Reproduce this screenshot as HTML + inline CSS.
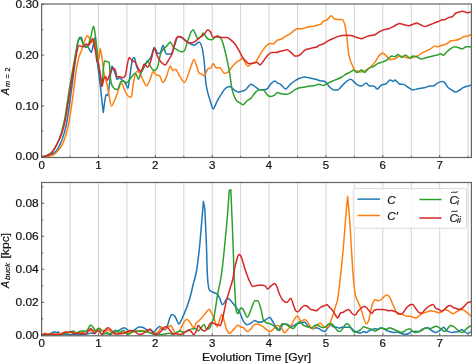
<!DOCTYPE html><html><head><meta charset="utf-8"><style>html,body{margin:0;padding:0;background:#fff;width:473px;height:364px;overflow:hidden}svg{display:block;will-change:transform}text{font-family:"Liberation Sans",sans-serif;stroke:#111;stroke-width:0.2px}</style></head><body>
<svg width="473" height="364" viewBox="0 0 473 364">
<defs><clipPath id="c1"><rect x="41.6" y="4.0" width="429.79999999999995" height="153.5"/></clipPath><clipPath id="c2"><rect x="41.6" y="182.5" width="429.79999999999995" height="153.3"/></clipPath></defs>
<line x1="70.03" y1="4.0" x2="70.03" y2="157.5" stroke="#d3d3d3" stroke-width="1"/>
<line x1="98.47" y1="4.0" x2="98.47" y2="157.5" stroke="#d3d3d3" stroke-width="1"/>
<line x1="126.91" y1="4.0" x2="126.91" y2="157.5" stroke="#d3d3d3" stroke-width="1"/>
<line x1="155.34" y1="4.0" x2="155.34" y2="157.5" stroke="#d3d3d3" stroke-width="1"/>
<line x1="183.77" y1="4.0" x2="183.77" y2="157.5" stroke="#d3d3d3" stroke-width="1"/>
<line x1="212.21" y1="4.0" x2="212.21" y2="157.5" stroke="#d3d3d3" stroke-width="1"/>
<line x1="240.64" y1="4.0" x2="240.64" y2="157.5" stroke="#d3d3d3" stroke-width="1"/>
<line x1="269.08" y1="4.0" x2="269.08" y2="157.5" stroke="#d3d3d3" stroke-width="1"/>
<line x1="297.51" y1="4.0" x2="297.51" y2="157.5" stroke="#d3d3d3" stroke-width="1"/>
<line x1="325.95" y1="4.0" x2="325.95" y2="157.5" stroke="#d3d3d3" stroke-width="1"/>
<line x1="354.38" y1="4.0" x2="354.38" y2="157.5" stroke="#d3d3d3" stroke-width="1"/>
<line x1="382.82" y1="4.0" x2="382.82" y2="157.5" stroke="#d3d3d3" stroke-width="1"/>
<line x1="411.25" y1="4.0" x2="411.25" y2="157.5" stroke="#d3d3d3" stroke-width="1"/>
<line x1="439.69" y1="4.0" x2="439.69" y2="157.5" stroke="#d3d3d3" stroke-width="1"/>
<line x1="468.12" y1="4.0" x2="468.12" y2="157.5" stroke="#d3d3d3" stroke-width="1"/>
<line x1="70.03" y1="182.5" x2="70.03" y2="335.8" stroke="#d3d3d3" stroke-width="1"/>
<line x1="98.47" y1="182.5" x2="98.47" y2="335.8" stroke="#d3d3d3" stroke-width="1"/>
<line x1="126.91" y1="182.5" x2="126.91" y2="335.8" stroke="#d3d3d3" stroke-width="1"/>
<line x1="155.34" y1="182.5" x2="155.34" y2="335.8" stroke="#d3d3d3" stroke-width="1"/>
<line x1="183.77" y1="182.5" x2="183.77" y2="335.8" stroke="#d3d3d3" stroke-width="1"/>
<line x1="212.21" y1="182.5" x2="212.21" y2="335.8" stroke="#d3d3d3" stroke-width="1"/>
<line x1="240.64" y1="182.5" x2="240.64" y2="335.8" stroke="#d3d3d3" stroke-width="1"/>
<line x1="269.08" y1="182.5" x2="269.08" y2="335.8" stroke="#d3d3d3" stroke-width="1"/>
<line x1="297.51" y1="182.5" x2="297.51" y2="335.8" stroke="#d3d3d3" stroke-width="1"/>
<line x1="325.95" y1="182.5" x2="325.95" y2="335.8" stroke="#d3d3d3" stroke-width="1"/>
<line x1="354.38" y1="182.5" x2="354.38" y2="335.8" stroke="#d3d3d3" stroke-width="1"/>
<line x1="382.82" y1="182.5" x2="382.82" y2="335.8" stroke="#d3d3d3" stroke-width="1"/>
<line x1="411.25" y1="182.5" x2="411.25" y2="335.8" stroke="#d3d3d3" stroke-width="1"/>
<line x1="439.69" y1="182.5" x2="439.69" y2="335.8" stroke="#d3d3d3" stroke-width="1"/>
<line x1="468.12" y1="182.5" x2="468.12" y2="335.8" stroke="#d3d3d3" stroke-width="1"/>
<g clip-path="url(#c1)" fill="none" stroke-width="1.5" stroke-linejoin="round" stroke-linecap="round">
<path d="M41.60,157.00 C41.60,157.00 44.75,156.83 46.00,156.50 C47.25,156.17 49.60,155.27 51.00,154.50 C52.40,153.73 55.03,152.67 56.50,150.70 C57.97,148.73 60.72,143.01 62.00,139.70 C63.28,136.39 65.19,129.93 66.10,125.90 C67.01,121.87 68.08,114.29 68.80,109.50 C69.52,104.71 70.79,95.27 71.50,90.00 C72.21,84.73 73.29,76.21 74.10,70.00 C74.91,63.79 76.87,47.60 77.60,43.40 C78.33,39.20 79.11,39.33 79.60,38.50 C80.09,37.67 80.85,37.20 81.30,37.20 C81.75,37.20 82.49,42.21 83.00,43.40 C83.51,44.59 84.45,45.65 85.10,46.10 C85.75,46.55 87.07,45.97 87.90,46.80 C88.73,47.63 90.57,52.30 91.30,52.30 C92.03,52.30 92.95,46.62 93.40,44.70 C93.85,42.78 94.34,37.90 94.70,37.90 C95.06,37.90 95.71,45.32 96.10,48.80 C96.49,52.28 97.04,59.08 97.60,64.00 C98.16,68.92 99.71,80.66 100.30,85.70 C100.89,90.74 101.60,98.23 102.00,101.80 C102.40,105.37 103.30,112.50 103.30,112.50 C103.30,112.50 104.33,104.19 104.70,101.80 C105.07,99.41 105.67,94.60 106.10,94.60 C106.53,94.60 107.42,95.50 107.90,95.50 C108.38,95.50 109.17,86.02 109.70,82.10 C110.23,78.18 111.38,66.10 111.90,66.10 C112.42,66.10 113.13,68.53 113.60,69.60 C114.07,70.67 114.92,72.78 115.40,74.10 C115.88,75.42 116.72,79.50 117.20,79.50 C117.68,79.50 118.28,77.70 119.00,77.70 C119.72,77.70 121.73,79.63 122.60,80.40 C123.47,81.17 124.78,82.43 125.50,83.50 C126.22,84.57 127.40,88.40 128.00,88.40 C128.60,88.40 129.41,78.81 130.00,75.00 C130.59,71.19 131.81,62.15 132.40,59.80 C132.99,57.45 133.84,57.40 134.40,57.40 C134.96,57.40 135.87,64.16 136.60,66.20 C137.33,68.24 139.18,72.70 139.90,72.70 C140.62,72.70 141.12,72.31 142.00,71.00 C142.88,69.69 145.31,64.71 146.50,62.90 C147.69,61.09 149.87,59.45 150.90,57.40 C151.93,55.35 153.32,47.50 154.20,47.50 C155.08,47.50 156.73,52.20 157.50,53.00 C158.27,53.80 159.27,53.50 160.00,53.50 C160.73,53.50 162.16,45.30 163.00,45.30 C163.84,45.30 165.37,54.00 166.30,54.00 C167.23,54.00 169.33,54.00 170.00,54.00 C170.67,54.00 170.69,54.00 171.30,54.00 C171.91,54.00 173.72,47.55 174.60,45.20 C175.48,42.85 177.02,36.40 177.90,36.40 C178.78,36.40 180.32,37.06 181.20,37.50 C182.08,37.94 183.47,38.97 184.50,39.70 C185.53,40.43 187.58,42.27 188.90,43.00 C190.22,43.73 193.08,45.20 194.40,45.20 C195.72,45.20 197.79,41.90 198.80,41.90 C199.81,41.90 201.27,44.63 202.00,47.40 C202.73,50.17 203.79,58.02 204.30,62.70 C204.81,67.38 205.35,78.54 205.80,82.50 C206.25,86.46 207.01,89.61 207.70,92.40 C208.39,95.19 210.27,101.20 211.00,103.40 C211.73,105.60 212.35,108.90 213.20,108.90 C214.05,108.90 216.29,102.71 217.40,100.70 C218.51,98.69 220.41,95.45 221.50,93.80 C222.59,92.15 224.51,89.29 225.60,88.30 C226.69,87.31 228.61,86.40 229.70,86.40 C230.79,86.40 232.69,88.97 233.80,89.70 C234.91,90.43 236.77,91.90 238.00,91.90 C239.23,91.90 241.97,91.29 243.00,91.00 C244.03,90.71 244.97,90.31 245.70,89.70 C246.43,89.09 247.77,87.13 248.50,86.40 C249.23,85.67 250.28,84.20 251.20,84.20 C252.12,84.20 254.29,86.17 255.40,86.90 C256.51,87.63 258.41,89.70 259.50,89.70 C260.59,89.70 262.51,89.70 263.60,89.70 C264.69,89.70 266.78,89.03 267.70,88.30 C268.62,87.57 269.58,85.19 270.50,84.20 C271.42,83.21 273.69,80.90 274.60,80.90 C275.51,80.90 276.45,82.31 277.30,82.80 C278.15,83.29 279.91,83.76 281.00,84.60 C282.09,85.44 284.29,89.10 285.50,89.10 C286.71,89.10 288.89,85.68 290.10,84.60 C291.31,83.52 293.40,81.81 294.60,81.00 C295.80,80.19 297.77,79.03 299.10,78.50 C300.43,77.97 303.19,77.00 304.60,77.00 C306.01,77.00 308.22,77.61 309.70,77.90 C311.18,78.19 314.21,78.79 315.70,79.20 C317.19,79.61 319.86,81.00 320.90,81.00 C321.94,81.00 322.74,81.00 323.50,81.00 C324.26,81.00 325.79,82.30 326.60,83.10 C327.41,83.90 328.60,86.08 329.60,87.00 C330.60,87.92 333.02,90.00 334.10,90.00 C335.18,90.00 336.69,90.00 337.70,90.00 C338.71,90.00 340.57,87.22 341.70,86.10 C342.83,84.98 345.00,82.52 346.20,81.60 C347.40,80.68 349.70,79.20 350.70,79.20 C351.70,79.20 352.86,80.88 353.70,81.60 C354.54,82.32 355.96,84.00 357.00,84.60 C358.04,85.20 360.29,86.10 361.50,86.10 C362.71,86.10 365.01,83.10 366.10,83.10 C367.19,83.10 368.70,86.10 369.70,86.10 C370.70,86.10 372.56,86.10 373.60,86.10 C374.64,86.10 376.49,89.10 377.50,89.10 C378.51,89.10 380.11,85.88 381.20,85.20 C382.29,84.52 384.50,84.68 385.70,84.00 C386.90,83.32 389.19,80.10 390.20,80.10 C391.21,80.10 392.66,81.60 393.30,81.60 C393.94,81.60 394.17,80.10 395.00,80.10 C395.83,80.10 398.29,83.40 399.50,84.00 C400.71,84.60 402.89,84.12 404.10,84.60 C405.31,85.08 407.48,86.88 408.60,87.60 C409.72,88.32 411.41,90.00 412.50,90.00 C413.59,90.00 415.71,89.34 416.80,89.10 C417.89,88.86 419.58,88.40 420.70,88.20 C421.82,88.00 424.00,87.88 425.20,87.60 C426.40,87.32 428.66,86.10 429.70,86.10 C430.74,86.10 431.96,86.10 433.00,86.10 C434.04,86.10 436.29,83.70 437.50,83.10 C438.71,82.50 441.09,81.60 442.10,81.60 C443.11,81.60 444.30,82.30 445.10,83.10 C445.90,83.90 447.22,86.68 448.10,87.60 C448.98,88.52 450.69,89.40 451.70,90.00 C452.71,90.60 454.65,92.10 455.70,92.10 C456.75,92.10 458.60,90.60 459.60,90.00 C460.60,89.40 462.12,88.12 463.20,87.60 C464.28,87.08 466.66,86.42 467.70,86.10 C468.74,85.78 471.00,85.20 471.00,85.20" stroke="#1f77b4"/>
<path d="M41.60,157.00 C41.60,157.00 45.39,156.79 47.00,156.50 C48.61,156.21 52.25,155.57 53.70,154.80 C55.15,154.03 56.79,151.98 57.90,150.70 C59.01,149.42 60.91,147.40 62.00,145.20 C63.09,143.00 65.19,137.13 66.10,134.20 C67.01,131.27 68.07,127.05 68.80,123.20 C69.53,119.35 70.89,110.06 71.60,105.30 C72.31,100.54 73.49,92.21 74.10,87.50 C74.71,82.79 75.56,74.05 76.20,70.00 C76.84,65.95 78.17,59.74 78.90,57.10 C79.63,54.46 81.06,52.03 81.70,50.20 C82.34,48.37 83.15,45.04 83.70,43.40 C84.25,41.76 85.33,38.91 85.80,37.90 C86.27,36.89 86.75,35.80 87.20,35.80 C87.65,35.80 88.65,36.98 89.20,37.90 C89.75,38.82 90.74,42.70 91.30,42.70 C91.86,42.70 92.95,40.60 93.40,40.60 C93.85,40.60 94.25,41.39 94.70,43.40 C95.15,45.41 96.25,53.51 96.80,55.70 C97.35,57.89 98.35,59.80 98.80,59.80 C99.25,59.80 99.73,48.20 100.20,48.20 C100.67,48.20 101.86,56.89 102.30,59.80 C102.74,62.71 103.14,67.57 103.50,70.00 C103.86,72.43 104.53,76.13 105.00,78.00 C105.47,79.87 106.47,81.73 107.00,84.00 C107.53,86.27 108.40,92.07 109.00,95.00 C109.60,97.93 110.58,106.00 111.50,106.00 C112.42,106.00 114.58,100.18 115.90,97.10 C117.22,94.02 120.23,82.90 121.40,82.90 C122.57,82.90 123.82,88.75 124.70,90.50 C125.58,92.25 127.12,95.12 128.00,96.00 C128.88,96.88 130.59,97.10 131.30,97.10 C132.01,97.10 132.59,87.10 133.30,83.70 C134.01,80.30 135.72,71.60 136.60,71.60 C137.48,71.60 139.02,71.53 139.90,72.70 C140.78,73.87 142.32,78.64 143.20,80.40 C144.08,82.16 145.62,85.90 146.50,85.90 C147.38,85.90 148.92,82.31 149.80,80.40 C150.68,78.49 152.22,71.60 153.10,71.60 C153.98,71.60 155.52,74.41 156.40,75.00 C157.28,75.59 158.82,74.99 159.70,76.00 C160.58,77.01 162.12,82.60 163.00,82.60 C163.88,82.60 165.34,79.31 166.30,77.10 C167.26,74.89 169.33,66.00 170.20,66.00 C171.07,66.00 172.07,70.40 172.80,70.40 C173.53,70.40 174.87,69.30 175.70,69.30 C176.53,69.30 177.83,73.04 179.00,74.80 C180.17,76.56 183.03,82.50 184.50,82.50 C185.97,82.50 188.75,72.37 190.00,69.30 C191.25,66.23 193.02,59.50 193.90,59.50 C194.78,59.50 195.95,64.25 196.60,66.00 C197.25,67.75 198.21,71.57 198.80,72.60 C199.39,73.63 200.27,73.26 201.00,73.70 C201.73,74.14 203.41,75.90 204.30,75.90 C205.19,75.90 206.81,70.09 207.70,69.00 C208.59,67.91 210.27,68.42 211.00,67.70 C211.73,66.98 212.53,63.60 213.20,63.60 C213.87,63.60 215.08,67.70 216.00,67.70 C216.92,67.70 219.01,67.70 220.10,67.70 C221.19,67.70 223.09,73.20 224.20,73.20 C225.31,73.20 227.29,72.72 228.40,71.80 C229.51,70.88 231.41,67.58 232.50,66.30 C233.59,65.02 235.51,63.11 236.60,62.20 C237.69,61.29 239.85,60.05 240.70,59.50 C241.55,58.95 242.33,58.10 243.00,58.10 C243.67,58.10 245.03,62.51 245.70,63.60 C246.37,64.69 247.27,66.30 248.00,66.30 C248.73,66.30 250.21,64.15 251.20,63.60 C252.19,63.05 254.48,62.93 255.40,62.20 C256.32,61.47 257.19,59.57 258.10,58.10 C259.01,56.63 261.09,52.85 262.20,51.20 C263.31,49.55 265.29,46.73 266.40,45.70 C267.51,44.67 269.55,43.50 270.50,43.50 C271.45,43.50 272.59,43.80 273.50,43.80 C274.41,43.80 276.30,40.80 277.30,40.20 C278.30,39.60 279.91,39.82 281.00,39.30 C282.09,38.78 284.29,37.03 285.50,36.30 C286.71,35.57 288.89,34.61 290.10,33.80 C291.31,32.99 293.60,30.88 294.60,30.20 C295.60,29.52 296.60,28.70 297.60,28.70 C298.60,28.70 300.89,28.70 302.10,28.70 C303.31,28.70 305.49,27.48 306.70,27.20 C307.91,26.92 310.00,26.80 311.20,26.60 C312.40,26.40 314.41,26.02 315.70,25.70 C316.99,25.38 319.86,24.81 320.90,24.20 C321.94,23.59 322.62,21.71 323.50,21.10 C324.38,20.49 326.49,20.32 327.50,19.60 C328.51,18.88 330.22,15.70 331.10,15.70 C331.98,15.70 333.30,18.18 334.10,18.70 C334.90,19.22 336.09,19.60 337.10,19.60 C338.11,19.60 340.69,19.60 341.70,19.60 C342.71,19.60 344.02,21.97 344.70,24.20 C345.38,26.43 346.32,32.67 346.80,36.30 C347.28,39.93 347.90,48.39 348.30,51.40 C348.70,54.41 349.28,57.09 349.80,58.90 C350.32,60.71 351.56,63.51 352.20,65.00 C352.84,66.49 353.99,69.30 354.60,70.10 C355.21,70.90 355.88,70.76 356.80,71.00 C357.72,71.24 360.26,71.90 361.50,71.90 C362.74,71.90 364.89,70.74 366.10,70.10 C367.31,69.46 369.40,68.19 370.60,67.10 C371.80,66.01 374.01,63.39 375.10,61.90 C376.19,60.41 377.79,57.10 378.80,55.90 C379.81,54.70 381.70,52.90 382.70,52.90 C383.70,52.90 385.30,54.98 386.30,55.90 C387.30,56.82 389.27,59.80 390.20,59.80 C391.13,59.80 392.66,58.90 393.30,58.90 C393.94,58.90 394.17,58.90 395.00,58.90 C395.83,58.90 398.29,55.90 399.50,55.90 C400.71,55.90 402.89,56.52 404.10,56.80 C405.31,57.08 407.40,58.00 408.60,58.00 C409.80,58.00 411.89,57.68 413.10,57.40 C414.31,57.12 416.49,56.50 417.70,55.90 C418.91,55.30 421.00,53.58 422.20,52.90 C423.40,52.22 425.49,51.41 426.70,50.80 C427.91,50.19 430.21,48.95 431.30,48.30 C432.39,47.65 434.07,45.90 434.90,45.90 C435.73,45.90 436.54,46.80 437.50,46.80 C438.46,46.80 440.89,45.70 442.10,45.30 C443.31,44.90 445.40,44.40 446.60,43.80 C447.80,43.20 449.89,41.28 451.10,40.80 C452.31,40.32 454.49,40.48 455.70,40.20 C456.91,39.92 459.20,39.14 460.20,38.70 C461.20,38.26 462.32,37.22 463.20,36.90 C464.08,36.58 465.76,36.59 466.80,36.30 C467.84,36.01 471.00,34.70 471.00,34.70" stroke="#ff7f0e"/>
<path d="M41.60,156.80 C41.60,156.80 44.25,156.51 45.50,156.00 C46.75,155.49 49.72,154.16 51.00,153.00 C52.28,151.84 54.01,149.17 55.10,147.30 C56.19,145.43 58.28,141.24 59.20,139.00 C60.12,136.76 61.29,133.03 62.00,130.50 C62.71,127.97 63.94,122.73 64.50,120.00 C65.06,117.27 65.53,114.27 66.20,110.00 C66.87,105.73 68.63,93.33 69.50,88.00 C70.37,82.67 71.81,75.04 72.70,70.00 C73.59,64.96 75.47,54.12 76.20,50.20 C76.93,46.28 77.71,42.33 78.20,40.60 C78.69,38.87 79.43,37.20 79.90,37.20 C80.37,37.20 81.19,39.51 81.70,40.60 C82.21,41.69 83.15,44.48 83.70,45.40 C84.25,46.32 85.24,47.50 85.80,47.50 C86.36,47.50 87.26,46.68 87.90,45.40 C88.54,44.12 89.87,40.46 90.60,37.90 C91.33,35.34 92.85,26.20 93.40,26.20 C93.95,26.20 94.25,28.16 94.70,31.00 C95.15,33.84 96.32,43.23 96.80,47.50 C97.28,51.77 97.91,59.84 98.30,63.00 C98.69,66.16 99.22,68.07 99.70,71.20 C100.18,74.33 101.42,86.50 101.90,86.50 C102.38,86.50 102.95,73.41 103.30,70.00 C103.65,66.59 103.98,60.90 104.50,60.90 C105.02,60.90 106.56,61.32 107.20,61.60 C107.84,61.88 108.91,61.21 109.30,63.00 C109.69,64.79 109.81,72.20 110.10,75.00 C110.39,77.80 110.95,82.20 111.50,84.00 C112.05,85.80 113.41,87.77 114.20,88.50 C114.99,89.23 116.55,89.50 117.40,89.50 C118.25,89.50 119.79,83.13 120.60,82.00 C121.41,80.87 122.66,81.00 123.50,81.00 C124.34,81.00 125.89,82.80 126.90,82.80 C127.91,82.80 129.97,78.77 131.10,77.50 C132.23,76.23 134.41,73.30 135.40,73.30 C136.39,73.30 137.75,79.30 138.50,79.30 C139.25,79.30 140.23,74.45 141.00,72.70 C141.77,70.95 143.42,67.80 144.30,66.20 C145.18,64.60 146.72,60.70 147.60,60.70 C148.48,60.70 150.02,65.99 150.90,67.30 C151.78,68.61 153.32,70.50 154.20,70.50 C155.08,70.50 156.62,69.63 157.50,67.30 C158.38,64.97 159.93,55.49 160.80,53.00 C161.67,50.51 163.12,49.63 164.00,48.60 C164.88,47.57 166.57,46.19 167.40,45.30 C168.23,44.41 169.39,41.90 170.20,41.90 C171.01,41.90 172.62,46.37 173.50,47.40 C174.38,48.43 175.77,49.01 176.80,49.60 C177.83,50.19 180.17,51.80 181.20,51.80 C182.23,51.80 183.62,52.17 184.50,50.70 C185.38,49.23 186.92,43.29 187.80,40.80 C188.68,38.31 190.37,33.47 191.10,32.00 C191.83,30.53 192.71,29.80 193.30,29.80 C193.89,29.80 194.91,33.03 195.50,34.20 C196.09,35.37 196.97,38.60 197.70,38.60 C198.43,38.60 200.27,37.13 201.00,36.40 C201.73,35.67 202.56,33.10 203.20,33.10 C203.84,33.10 205.20,35.64 205.80,36.40 C206.40,37.16 206.89,38.36 207.70,38.80 C208.51,39.24 210.79,39.70 211.90,39.70 C213.01,39.70 214.91,36.90 216.00,36.90 C217.09,36.90 219.18,36.69 220.10,37.50 C221.02,38.31 221.98,40.07 222.90,43.00 C223.82,45.93 226.09,55.47 227.00,59.50 C227.91,63.53 229.09,69.55 229.70,73.20 C230.31,76.85 231.05,83.97 231.60,86.90 C232.15,89.83 233.13,93.36 233.80,95.20 C234.47,97.04 235.68,99.61 236.60,100.70 C237.52,101.79 239.85,102.85 240.70,103.40 C241.55,103.95 242.15,104.80 243.00,104.80 C243.85,104.80 246.01,101.62 247.10,100.70 C248.19,99.78 250.09,99.01 251.20,97.90 C252.31,96.79 254.29,93.49 255.40,92.40 C256.51,91.31 258.41,89.70 259.50,89.70 C260.59,89.70 262.51,89.47 263.60,90.20 C264.69,90.93 266.78,94.36 267.70,95.20 C268.62,96.04 269.58,96.50 270.50,96.50 C271.42,96.50 273.69,95.75 274.60,95.20 C275.51,94.65 276.45,92.40 277.30,92.40 C278.15,92.40 279.71,93.45 281.00,93.70 C282.29,93.95 285.59,94.30 287.00,94.30 C288.41,94.30 290.39,92.79 291.60,92.10 C292.81,91.41 294.90,89.70 296.10,89.10 C297.30,88.50 299.39,87.88 300.60,87.60 C301.81,87.32 303.99,87.20 305.20,87.00 C306.41,86.80 308.53,86.26 309.70,86.10 C310.87,85.94 312.79,86.04 314.00,85.80 C315.21,85.56 317.53,84.30 318.80,84.30 C320.07,84.30 322.26,85.50 323.50,85.50 C324.74,85.50 326.89,83.70 328.10,83.10 C329.31,82.50 331.40,81.52 332.60,81.00 C333.80,80.48 335.89,79.73 337.10,79.20 C338.31,78.67 340.49,77.69 341.70,77.00 C342.91,76.31 345.00,74.68 346.20,74.00 C347.40,73.32 349.70,72.42 350.70,71.90 C351.70,71.38 352.86,70.10 353.70,70.10 C354.54,70.10 355.96,72.50 357.00,72.50 C358.04,72.50 360.49,70.10 361.50,70.10 C362.51,70.10 363.59,72.50 364.60,72.50 C365.61,72.50 367.90,68.80 369.10,68.00 C370.30,67.20 372.40,67.11 373.60,66.50 C374.80,65.89 376.89,64.01 378.10,63.40 C379.31,62.79 381.49,62.38 382.70,61.90 C383.91,61.42 386.00,60.60 387.20,59.80 C388.40,59.00 390.69,55.90 391.70,55.90 C392.71,55.90 393.96,56.80 394.80,56.80 C395.64,56.80 397.09,54.40 398.00,54.40 C398.91,54.40 400.59,57.40 401.60,57.40 C402.61,57.40 404.55,55.00 405.60,55.00 C406.65,55.00 408.50,58.00 409.50,58.00 C410.50,58.00 412.13,55.90 413.10,55.90 C414.07,55.90 415.79,56.40 416.80,56.80 C417.81,57.20 419.58,58.90 420.70,58.90 C421.82,58.90 424.00,58.28 425.20,58.00 C426.40,57.72 428.66,57.08 429.70,56.80 C430.74,56.52 431.96,56.14 433.00,55.90 C434.04,55.66 436.49,55.28 437.50,55.00 C438.51,54.72 439.79,53.80 440.60,53.80 C441.41,53.80 442.80,55.30 443.60,55.30 C444.40,55.30 445.60,52.93 446.60,52.00 C447.60,51.07 450.01,48.99 451.10,48.30 C452.19,47.61 453.79,46.80 454.80,46.80 C455.81,46.80 457.70,47.42 458.70,47.70 C459.70,47.98 461.30,48.90 462.30,48.90 C463.30,48.90 465.04,46.80 466.20,46.80 C467.36,46.80 471.00,46.80 471.00,46.80" stroke="#2ca02c"/>
<path d="M41.60,156.80 C41.60,156.80 44.25,156.65 45.50,156.20 C46.75,155.75 49.72,154.51 51.00,153.40 C52.28,152.29 54.01,149.73 55.10,147.90 C56.19,146.07 58.28,141.71 59.20,139.70 C60.12,137.69 61.27,135.00 62.00,132.80 C62.73,130.60 63.97,126.64 64.70,123.20 C65.43,119.76 66.73,111.69 67.50,107.00 C68.27,102.31 69.71,92.93 70.50,88.00 C71.29,83.07 72.55,74.85 73.40,70.00 C74.25,65.15 76.17,54.88 76.90,51.60 C77.63,48.32 78.35,45.40 78.90,45.40 C79.45,45.40 80.45,45.91 81.00,46.10 C81.55,46.29 82.36,46.80 83.00,46.80 C83.64,46.80 85.07,44.00 85.80,44.00 C86.53,44.00 87.86,45.40 88.50,45.40 C89.14,45.40 90.04,42.92 90.60,42.00 C91.16,41.08 92.25,38.50 92.70,38.50 C93.15,38.50 93.61,42.20 94.00,44.00 C94.39,45.80 95.21,49.71 95.60,52.00 C95.99,54.29 96.54,59.79 96.90,61.20 C97.26,62.61 97.93,61.27 98.30,62.60 C98.67,63.93 99.31,68.88 99.70,71.20 C100.09,73.52 100.89,77.96 101.20,80.00 C101.51,82.04 101.65,86.50 102.00,86.50 C102.35,86.50 103.32,79.89 103.80,78.60 C104.28,77.31 105.12,76.80 105.60,76.80 C106.08,76.80 106.92,80.40 107.40,80.40 C107.88,80.40 108.60,77.34 109.20,75.90 C109.80,74.46 111.31,70.67 111.90,69.60 C112.49,68.53 113.13,67.90 113.60,67.90 C114.07,67.90 114.92,69.31 115.40,70.50 C115.88,71.69 116.60,76.80 117.20,76.80 C117.80,76.80 119.18,76.80 119.90,76.80 C120.62,76.80 121.85,77.70 122.60,77.70 C123.35,77.70 124.65,77.68 125.50,75.00 C126.35,72.32 128.08,57.60 129.00,57.60 C129.92,57.60 131.60,60.31 132.40,60.90 C133.20,61.49 134.29,61.15 135.00,62.00 C135.71,62.85 136.90,66.02 137.70,67.30 C138.50,68.58 140.12,71.60 141.00,71.60 C141.88,71.60 143.42,64.00 144.30,64.00 C145.18,64.00 146.72,67.30 147.60,67.30 C148.48,67.30 150.02,63.19 150.90,60.70 C151.78,58.21 153.32,48.60 154.20,48.60 C155.08,48.60 156.62,54.54 157.50,56.30 C158.38,58.06 159.77,60.64 160.80,61.80 C161.83,62.96 164.24,65.00 165.20,65.00 C166.16,65.00 167.04,62.61 168.00,61.00 C168.96,59.39 171.37,55.74 172.40,52.90 C173.43,50.06 174.82,41.90 175.70,39.70 C176.58,37.50 178.12,36.40 179.00,36.40 C179.88,36.40 181.42,36.91 182.30,37.50 C183.18,38.09 184.57,40.07 185.60,40.80 C186.63,41.53 188.83,43.00 190.00,43.00 C191.17,43.00 193.08,42.63 194.40,41.90 C195.72,41.17 198.58,38.53 199.90,37.50 C201.22,36.47 203.26,35.23 204.30,34.20 C205.34,33.17 206.87,29.80 207.70,29.80 C208.53,29.80 209.77,30.97 210.50,32.00 C211.23,33.03 212.28,37.50 213.20,37.50 C214.12,37.50 216.29,36.10 217.40,36.10 C218.51,36.10 220.22,37.50 221.50,37.50 C222.78,37.50 225.72,37.50 227.00,37.50 C228.28,37.50 230.01,39.29 231.10,40.20 C232.19,41.11 234.11,42.83 235.20,44.30 C236.29,45.77 238.19,49.24 239.30,51.20 C240.41,53.16 242.65,57.72 243.50,59.00 C244.35,60.28 245.03,60.19 245.70,60.80 C246.37,61.41 247.58,63.60 248.50,63.60 C249.42,63.60 251.51,63.60 252.60,63.60 C253.69,63.60 255.71,62.20 256.70,62.20 C257.69,62.20 259.08,64.90 260.00,64.90 C260.92,64.90 262.57,62.08 263.60,60.80 C264.63,59.52 266.61,56.39 267.70,55.30 C268.79,54.21 270.69,52.60 271.80,52.60 C272.91,52.60 274.89,52.60 276.00,52.60 C277.11,52.60 279.15,51.45 280.10,51.20 C281.05,50.95 282.18,50.89 283.10,50.70 C284.02,50.51 285.87,49.80 287.00,49.80 C288.13,49.80 290.59,52.09 291.60,52.90 C292.61,53.71 293.80,55.90 294.60,55.90 C295.40,55.90 296.80,55.90 297.60,55.90 C298.40,55.90 299.59,55.21 300.60,54.40 C301.61,53.59 303.79,50.61 305.20,49.80 C306.61,48.99 309.59,48.70 311.20,48.30 C312.81,47.90 316.26,47.20 317.30,46.80 C318.34,46.40 318.17,45.70 319.00,45.30 C319.83,44.90 322.29,44.40 323.50,43.80 C324.71,43.20 326.89,41.48 328.10,40.80 C329.31,40.12 331.40,39.22 332.60,38.70 C333.80,38.18 335.89,37.31 337.10,36.90 C338.31,36.49 340.49,35.81 341.70,35.60 C342.91,35.39 345.00,35.30 346.20,35.30 C347.40,35.30 349.49,35.39 350.70,35.60 C351.91,35.81 354.46,36.65 355.30,36.90 C356.14,37.15 356.17,37.26 357.00,37.50 C357.83,37.74 360.29,38.70 361.50,38.70 C362.71,38.70 364.89,37.31 366.10,36.90 C367.31,36.49 369.40,35.89 370.60,35.60 C371.80,35.31 373.89,35.22 375.10,34.70 C376.31,34.18 378.49,32.38 379.70,31.70 C380.91,31.02 383.00,30.00 384.20,29.60 C385.40,29.20 387.49,29.10 388.70,28.70 C389.91,28.30 392.21,27.16 393.30,26.60 C394.39,26.04 396.07,24.90 396.90,24.50 C397.73,24.10 398.54,23.60 399.50,23.60 C400.46,23.60 402.89,24.52 404.10,24.80 C405.31,25.08 407.40,25.70 408.60,25.70 C409.80,25.70 412.01,24.56 413.10,24.20 C414.19,23.84 415.79,23.00 416.80,23.00 C417.81,23.00 419.58,24.32 420.70,24.80 C421.82,25.28 424.00,26.60 425.20,26.60 C426.40,26.60 428.66,25.20 429.70,24.80 C430.74,24.40 431.96,24.00 433.00,23.60 C434.04,23.20 436.29,22.31 437.50,21.80 C438.71,21.29 441.10,20.09 442.10,19.80 C443.10,19.51 444.17,19.89 445.00,19.60 C445.83,19.31 447.35,17.97 448.30,17.60 C449.25,17.23 451.37,17.12 452.10,16.80 C452.83,16.48 453.28,15.71 453.80,15.20 C454.32,14.69 455.27,13.44 456.00,13.00 C456.73,12.56 458.42,12.13 459.30,11.90 C460.18,11.67 461.84,11.30 462.60,11.30 C463.36,11.30 464.32,11.71 465.00,11.90 C465.68,12.09 466.90,12.70 467.70,12.70 C468.50,12.70 471.00,12.10 471.00,12.10" stroke="#d62728"/>
</g>
<g clip-path="url(#c2)" fill="none" stroke-width="1.5" stroke-linejoin="round" stroke-linecap="round">
<path d="M41.60,335.30 C41.60,335.30 43.88,334.67 45.00,334.50 C46.12,334.33 48.97,334.29 50.00,334.00 C51.03,333.71 52.09,332.57 52.70,332.30 C53.31,332.03 54.09,332.00 54.60,332.00 C55.11,332.00 55.99,332.60 56.50,332.60 C57.01,332.60 57.89,332.00 58.40,332.00 C58.91,332.00 59.37,333.85 60.30,334.20 C61.23,334.55 64.04,334.52 65.40,334.60 C66.76,334.68 69.31,334.80 70.50,334.80 C71.69,334.80 73.29,334.20 74.30,334.20 C75.31,334.20 76.93,334.80 78.10,334.80 C79.27,334.80 81.75,334.73 83.10,334.60 C84.45,334.47 87.17,334.01 88.20,333.80 C89.23,333.59 90.12,333.00 90.80,333.00 C91.48,333.00 92.69,333.40 93.30,333.40 C93.91,333.40 94.67,333.14 95.40,332.50 C96.13,331.86 97.84,328.60 98.80,328.60 C99.76,328.60 101.64,330.09 102.60,330.50 C103.56,330.91 104.99,331.17 106.00,331.70 C107.01,332.23 109.13,334.50 110.20,334.50 C111.27,334.50 112.81,333.27 114.00,332.70 C115.19,332.13 117.74,330.87 119.10,330.20 C120.46,329.53 123.01,327.70 124.20,327.70 C125.39,327.70 126.99,329.75 128.00,330.20 C129.01,330.65 130.79,331.10 131.80,331.10 C132.81,331.10 134.67,329.76 135.60,329.20 C136.53,328.64 137.87,326.90 138.80,326.90 C139.73,326.90 141.67,326.99 142.60,327.30 C143.53,327.61 145.08,328.77 145.80,329.20 C146.52,329.63 147.44,330.50 148.00,330.50 C148.56,330.50 149.19,329.80 150.00,329.80 C150.81,329.80 153.18,331.90 154.10,331.90 C155.02,331.90 156.17,329.23 156.90,328.50 C157.63,327.77 158.87,326.40 159.60,326.40 C160.33,326.40 161.67,328.65 162.40,329.10 C163.13,329.55 164.37,329.80 165.10,329.80 C165.83,329.80 167.26,325.94 167.90,324.30 C168.54,322.66 169.35,318.81 169.90,317.50 C170.45,316.19 171.36,314.50 172.00,314.50 C172.64,314.50 174.06,315.34 174.70,316.10 C175.34,316.86 176.25,319.13 176.80,320.20 C177.35,321.27 178.16,324.10 178.80,324.10 C179.44,324.10 180.87,320.93 181.60,319.50 C182.33,318.07 183.57,315.13 184.30,313.40 C185.03,311.67 186.37,308.53 187.10,306.50 C187.83,304.47 189.16,300.40 189.80,298.20 C190.44,296.00 191.47,291.76 191.90,290.00 C192.33,288.24 192.39,287.53 193.00,285.00 C193.61,282.47 195.63,276.03 196.50,271.00 C197.37,265.97 198.86,253.23 199.50,247.30 C200.14,241.37 200.78,232.59 201.30,226.50 C201.82,220.41 203.40,201.60 203.40,201.60 C203.40,201.60 204.80,208.70 204.80,208.70 C204.80,208.70 205.95,232.46 206.30,241.30 C206.65,250.14 207.04,268.63 207.40,275.00 C207.76,281.37 208.39,286.89 209.00,289.10 C209.61,291.31 211.24,291.08 212.00,291.60 C212.76,292.12 214.06,292.72 214.70,293.00 C215.34,293.28 216.15,293.05 216.80,293.70 C217.45,294.35 218.87,296.43 219.60,297.90 C220.33,299.37 221.66,304.70 222.30,304.70 C222.94,304.70 223.85,303.43 224.40,302.70 C224.95,301.97 225.85,299.76 226.40,299.20 C226.95,298.64 227.86,298.50 228.50,298.50 C229.14,298.50 230.47,300.47 231.20,301.30 C231.93,302.13 233.19,303.67 234.00,304.70 C234.81,305.73 236.50,307.89 237.30,309.00 C238.10,310.11 239.15,311.31 240.00,313.00 C240.85,314.69 242.71,320.14 243.70,321.70 C244.69,323.26 246.41,324.70 247.40,324.70 C248.39,324.70 250.11,323.56 251.10,323.00 C252.09,322.44 253.81,320.50 254.80,320.50 C255.79,320.50 257.50,322.20 258.50,322.20 C259.50,322.20 261.30,322.03 262.30,321.70 C263.30,321.37 265.01,320.29 266.00,319.70 C266.99,319.11 268.89,317.30 269.70,317.30 C270.51,317.30 271.27,319.25 272.10,320.50 C272.93,321.75 274.90,325.38 275.90,326.70 C276.90,328.02 278.61,330.40 279.60,330.40 C280.59,330.40 282.31,324.20 283.30,324.20 C284.29,324.20 286.01,324.20 287.00,324.20 C287.99,324.20 289.77,326.70 290.70,326.70 C291.63,326.70 293.16,325.89 294.00,325.50 C294.84,325.11 296.09,324.15 297.00,323.80 C297.91,323.45 299.77,323.15 300.80,322.90 C301.83,322.65 303.79,321.90 304.70,321.90 C305.61,321.90 306.83,325.03 307.60,325.80 C308.37,326.57 309.74,327.31 310.50,327.70 C311.26,328.09 312.54,328.70 313.30,328.70 C314.06,328.70 315.44,327.70 316.20,327.70 C316.96,327.70 318.23,328.31 319.00,328.70 C319.77,329.09 321.21,330.23 322.00,330.60 C322.79,330.97 324.13,331.50 324.90,331.50 C325.67,331.50 327.03,328.59 327.80,327.70 C328.57,326.81 329.94,324.80 330.70,324.80 C331.46,324.80 332.74,326.37 333.50,326.70 C334.26,327.03 335.63,327.11 336.40,327.30 C337.17,327.49 338.55,328.10 339.30,328.10 C340.05,328.10 341.23,327.30 342.00,327.30 C342.77,327.30 344.30,327.30 345.10,327.30 C345.90,327.30 347.24,327.30 348.00,327.30 C348.76,327.30 350.04,327.26 350.80,327.70 C351.56,328.14 353.14,330.13 353.70,330.60 C354.26,331.07 354.44,330.95 355.00,331.20 C355.56,331.45 357.13,332.26 357.90,332.50 C358.67,332.74 360.03,333.00 360.80,333.00 C361.57,333.00 362.94,331.50 363.70,331.50 C364.46,331.50 365.74,332.50 366.50,332.50 C367.26,332.50 368.63,330.99 369.40,330.60 C370.17,330.21 371.53,329.85 372.30,329.60 C373.07,329.35 374.43,328.70 375.20,328.70 C375.97,328.70 377.33,329.20 378.10,329.20 C378.87,329.20 380.24,327.70 381.00,327.70 C381.76,327.70 383.04,328.31 383.80,328.70 C384.56,329.09 385.93,330.23 386.70,330.60 C387.47,330.97 388.69,331.25 389.60,331.50 C390.51,331.75 392.47,332.50 393.50,332.50 C394.53,332.50 396.27,332.00 397.30,332.00 C398.33,332.00 400.17,333.18 401.20,333.50 C402.23,333.82 403.99,334.40 405.00,334.40 C406.01,334.40 407.91,333.93 408.80,333.50 C409.69,333.07 411.14,331.20 411.70,331.20 C412.26,331.20 412.45,331.50 413.00,331.50 C413.55,331.50 415.04,331.20 415.80,331.20 C416.56,331.20 417.94,331.90 418.70,331.90 C419.46,331.90 420.74,330.11 421.50,329.60 C422.26,329.09 423.63,328.35 424.40,328.10 C425.17,327.85 426.53,327.70 427.30,327.70 C428.07,327.70 429.43,329.09 430.20,329.60 C430.97,330.11 432.33,331.11 433.10,331.50 C433.87,331.89 435.24,332.50 436.00,332.50 C436.76,332.50 438.04,331.71 438.80,331.20 C439.56,330.69 441.05,329.22 441.70,328.70 C442.35,328.18 443.06,327.30 443.70,327.30 C444.34,327.30 445.74,329.99 446.50,330.60 C447.26,331.21 448.63,331.65 449.40,331.90 C450.17,332.15 451.39,332.50 452.30,332.50 C453.21,332.50 455.31,332.03 456.20,331.90 C457.09,331.77 458.24,331.81 459.00,331.50 C459.76,331.19 461.13,329.60 461.90,329.60 C462.67,329.60 464.03,331.38 464.80,331.90 C465.57,332.42 466.85,333.50 467.70,333.50 C468.55,333.50 471.20,331.50 471.20,331.50" stroke="#1f77b4"/>
<path d="M41.60,335.30 C41.60,335.30 44.13,333.30 45.10,333.30 C46.07,333.30 47.89,334.60 48.90,334.60 C49.91,334.60 51.69,333.80 52.70,333.80 C53.71,333.80 55.49,334.40 56.50,334.40 C57.51,334.40 59.29,333.88 60.30,333.60 C61.31,333.32 63.09,332.30 64.10,332.30 C65.11,332.30 66.89,332.90 67.90,332.90 C68.91,332.90 70.69,332.30 71.70,332.30 C72.71,332.30 74.49,332.90 75.50,332.90 C76.51,332.90 78.29,332.42 79.30,332.30 C80.31,332.18 82.07,332.17 83.10,332.00 C84.13,331.83 85.97,331.21 87.00,331.00 C88.03,330.79 89.79,330.40 90.80,330.40 C91.81,330.40 94.04,331.00 94.60,331.00 C95.16,331.00 94.36,330.87 95.00,330.50 C95.64,330.13 98.21,328.20 99.40,328.20 C100.59,328.20 102.79,332.40 103.90,332.40 C105.01,332.40 106.69,329.80 107.70,329.80 C108.71,329.80 110.49,332.49 111.50,333.00 C112.51,333.51 114.11,333.60 115.30,333.60 C116.49,333.60 119.24,332.87 120.40,332.70 C121.56,332.53 122.99,332.30 124.00,332.30 C125.01,332.30 126.96,333.20 128.00,333.20 C129.04,333.20 130.61,331.93 131.80,331.70 C132.99,331.47 135.54,331.66 136.90,331.50 C138.26,331.34 140.79,330.50 142.00,330.50 C143.21,330.50 144.83,330.77 146.00,331.10 C147.17,331.43 149.73,332.64 150.80,333.00 C151.87,333.36 153.01,333.80 154.00,333.80 C154.99,333.80 157.17,332.79 158.20,331.90 C159.23,331.01 160.78,327.10 161.70,327.10 C162.62,327.10 164.27,329.10 165.10,329.10 C165.93,329.10 167.17,327.59 167.90,327.10 C168.63,326.61 169.96,325.40 170.60,325.40 C171.24,325.40 172.06,327.45 172.70,328.50 C173.34,329.55 174.67,333.30 175.40,333.30 C176.13,333.30 177.47,332.94 178.20,332.30 C178.93,331.66 180.17,329.83 180.90,328.50 C181.63,327.17 182.97,323.50 183.70,322.30 C184.43,321.10 185.68,319.50 186.40,319.50 C187.12,319.50 188.37,320.07 189.10,320.90 C189.83,321.73 191.25,324.78 191.90,325.70 C192.55,326.62 193.45,327.80 194.00,327.80 C194.55,327.80 195.53,323.77 196.00,323.00 C196.47,322.23 196.75,322.68 197.50,322.00 C198.25,321.32 200.51,319.10 201.60,317.90 C202.69,316.70 204.71,314.15 205.70,313.00 C206.69,311.85 208.23,309.30 209.00,309.30 C209.77,309.30 210.85,311.85 211.50,313.00 C212.15,314.15 213.14,316.03 213.90,317.90 C214.66,319.77 216.43,327.00 217.20,327.00 C217.97,327.00 219.10,321.15 219.70,319.50 C220.30,317.85 221.15,314.60 221.70,314.60 C222.25,314.60 223.19,317.63 223.80,319.50 C224.41,321.37 225.53,326.73 226.30,328.60 C227.07,330.47 228.61,333.50 229.60,333.50 C230.59,333.50 232.61,330.49 233.70,329.40 C234.79,328.31 236.81,325.30 237.80,325.30 C238.79,325.30 240.31,326.65 241.10,327.00 C241.89,327.35 242.86,327.29 243.70,327.90 C244.54,328.51 246.41,331.60 247.40,331.60 C248.39,331.60 250.11,329.59 251.10,328.60 C252.09,327.61 253.81,324.20 254.80,324.20 C255.79,324.20 257.50,324.20 258.50,324.20 C259.50,324.20 261.30,325.55 262.30,326.20 C263.30,326.85 265.01,328.38 266.00,329.10 C266.99,329.82 268.71,331.60 269.70,331.60 C270.69,331.60 272.41,329.93 273.40,329.10 C274.39,328.27 276.11,325.40 277.10,325.40 C278.09,325.40 279.81,325.71 280.80,326.70 C281.79,327.69 283.51,332.80 284.50,332.80 C285.49,332.80 287.21,330.25 288.20,329.10 C289.19,327.95 290.91,325.77 291.90,324.20 C292.89,322.63 294.77,318.35 295.60,317.30 C296.43,316.25 297.41,316.30 298.10,316.30 C298.79,316.30 299.92,321.00 300.80,321.00 C301.68,321.00 303.79,319.60 304.70,319.60 C305.61,319.60 306.83,320.95 307.60,321.90 C308.37,322.85 309.74,325.79 310.50,326.70 C311.26,327.61 312.54,328.70 313.30,328.70 C314.06,328.70 315.29,326.97 316.20,326.20 C317.11,325.43 319.07,322.90 320.10,322.90 C321.13,322.90 323.01,326.06 323.90,326.70 C324.79,327.34 326.03,327.70 326.80,327.70 C327.57,327.70 328.93,325.33 329.70,323.80 C330.47,322.27 331.83,318.51 332.60,316.20 C333.37,313.89 334.83,308.73 335.50,306.50 C336.17,304.27 337.00,302.95 337.60,299.50 C338.20,296.05 339.27,287.15 340.00,280.60 C340.73,274.05 342.37,258.45 343.10,250.40 C343.83,242.35 344.90,227.37 345.50,220.20 C346.10,213.03 347.60,196.60 347.60,196.60 C347.60,196.60 349.18,213.03 349.70,220.20 C350.22,227.37 350.98,242.35 351.50,250.40 C352.02,258.45 353.08,274.65 353.60,280.60 C354.12,286.55 354.83,292.21 355.40,295.00 C355.97,297.79 357.18,299.70 357.90,301.50 C358.62,303.30 360.03,306.29 360.80,308.50 C361.57,310.71 362.98,316.06 363.70,318.10 C364.42,320.14 365.56,323.80 366.20,323.80 C366.84,323.80 367.94,322.53 368.50,321.00 C369.06,319.47 369.89,314.49 370.40,312.30 C370.91,310.11 371.66,306.27 372.30,304.60 C372.94,302.93 374.43,299.80 375.20,299.80 C375.97,299.80 377.33,300.80 378.10,300.80 C378.87,300.80 380.24,300.32 381.00,299.80 C381.76,299.28 383.04,297.54 383.80,296.90 C384.56,296.26 385.93,295.00 386.70,295.00 C387.47,295.00 388.83,295.74 389.60,296.90 C390.37,298.06 391.73,301.90 392.50,303.70 C393.27,305.50 394.63,309.00 395.40,310.40 C396.17,311.80 397.53,314.20 398.30,314.20 C399.07,314.20 400.44,313.80 401.20,313.80 C401.96,313.80 403.24,314.88 404.00,315.20 C404.76,315.52 406.10,316.20 406.90,316.20 C407.70,316.20 409.20,316.20 410.00,316.20 C410.80,316.20 412.13,316.85 412.90,317.10 C413.67,317.35 415.03,318.10 415.80,318.10 C416.57,318.10 417.94,316.77 418.70,316.20 C419.46,315.63 420.74,314.27 421.50,313.80 C422.26,313.33 423.63,312.95 424.40,312.70 C425.17,312.45 426.53,312.15 427.30,311.90 C428.07,311.65 429.43,310.80 430.20,310.80 C430.97,310.80 432.33,311.15 433.10,311.30 C433.87,311.45 435.24,311.71 436.00,311.90 C436.76,312.09 438.04,312.70 438.80,312.70 C439.56,312.70 440.93,312.34 441.70,311.90 C442.47,311.46 443.83,309.40 444.60,309.40 C445.37,309.40 446.73,310.01 447.50,310.40 C448.27,310.79 449.63,311.85 450.40,312.30 C451.17,312.75 452.53,313.80 453.30,313.80 C454.07,313.80 455.44,312.41 456.20,311.90 C456.96,311.39 458.24,310.33 459.00,310.00 C459.76,309.67 461.13,309.40 461.90,309.40 C462.67,309.40 464.03,310.28 464.80,310.80 C465.57,311.32 466.85,312.58 467.70,313.30 C468.55,314.02 471.20,316.20 471.20,316.20" stroke="#ff7f0e"/>
<path d="M41.60,335.30 C41.60,335.30 47.55,335.07 50.00,335.00 C52.45,334.93 57.95,334.99 60.00,334.80 C62.05,334.61 64.00,334.01 65.40,333.60 C66.80,333.19 69.41,332.05 70.50,331.70 C71.59,331.35 72.84,331.00 73.60,331.00 C74.36,331.00 75.44,332.90 76.20,332.90 C76.96,332.90 78.46,331.98 79.30,331.70 C80.14,331.42 81.74,330.80 82.50,330.80 C83.26,330.80 84.32,331.70 85.00,331.70 C85.68,331.70 86.92,330.65 87.60,329.80 C88.28,328.95 89.51,325.30 90.10,325.30 C90.69,325.30 91.49,325.27 92.00,325.70 C92.51,326.13 93.39,327.79 93.90,328.50 C94.41,329.21 95.20,331.00 95.80,331.00 C96.40,331.00 97.84,328.50 98.40,328.50 C98.96,328.50 99.61,328.73 100.00,329.50 C100.39,330.27 100.63,334.30 101.30,334.30 C101.97,334.30 103.84,333.80 105.00,333.80 C106.16,333.80 108.63,333.80 110.00,333.80 C111.37,333.80 114.03,330.20 115.30,330.20 C116.57,330.20 118.39,332.30 119.50,332.30 C120.61,332.30 122.47,330.50 123.60,330.50 C124.73,330.50 126.73,334.50 128.00,334.50 C129.27,334.50 131.75,332.15 133.10,331.70 C134.45,331.25 136.75,331.10 138.10,331.10 C139.45,331.10 141.84,331.34 143.20,331.50 C144.56,331.66 146.94,331.97 148.30,332.30 C149.66,332.63 152.24,333.73 153.40,334.00 C154.56,334.27 155.99,334.22 157.00,334.30 C158.01,334.38 159.93,334.60 161.00,334.60 C162.07,334.60 163.91,334.17 165.00,334.00 C166.09,333.83 168.13,333.30 169.20,333.30 C170.27,333.30 171.89,334.30 173.00,334.30 C174.11,334.30 176.54,332.35 177.50,331.90 C178.46,331.45 179.29,330.90 180.20,330.90 C181.11,330.90 183.29,332.60 184.30,332.60 C185.31,332.60 186.88,331.37 187.80,330.90 C188.72,330.43 190.20,329.42 191.20,329.10 C192.20,328.78 194.35,328.50 195.30,328.50 C196.25,328.50 197.46,331.10 198.30,331.10 C199.14,331.10 200.83,327.88 201.60,327.00 C202.37,326.12 203.45,324.50 204.10,324.50 C204.75,324.50 205.74,329.40 206.50,329.40 C207.26,329.40 209.03,328.79 209.80,327.80 C210.57,326.81 211.71,323.57 212.30,322.00 C212.89,320.43 213.71,318.27 214.20,316.00 C214.69,313.73 215.56,307.80 216.00,305.00 C216.44,302.20 216.86,298.53 217.50,295.00 C218.14,291.47 220.07,282.90 220.80,278.50 C221.53,274.10 222.41,267.13 223.00,262.00 C223.59,256.87 224.60,246.27 225.20,240.00 C225.80,233.73 226.97,221.55 227.50,215.00 C228.03,208.45 229.20,190.90 229.20,190.90 C229.20,190.90 230.80,189.60 230.80,189.60 C230.80,189.60 231.22,198.98 231.50,205.70 C231.78,212.42 232.57,231.03 232.90,240.00 C233.23,248.97 233.71,265.67 234.00,273.00 C234.29,280.33 234.81,290.03 235.10,295.00 C235.39,299.97 235.76,307.82 236.20,310.30 C236.64,312.78 237.81,313.60 238.40,313.60 C238.99,313.60 240.01,308.10 240.60,308.10 C241.19,308.10 242.39,308.47 242.80,308.80 C243.21,309.13 243.09,309.47 243.70,310.60 C244.31,311.73 246.41,317.30 247.40,317.30 C248.39,317.30 250.11,311.51 251.10,309.30 C252.09,307.09 253.91,300.70 254.80,300.70 C255.69,300.70 256.97,300.70 257.80,300.70 C258.63,300.70 260.24,306.66 261.00,309.30 C261.76,311.94 262.67,318.67 263.50,320.50 C264.33,322.33 266.21,322.51 267.20,323.00 C268.19,323.49 269.91,323.71 270.90,324.20 C271.89,324.69 273.61,325.87 274.60,326.70 C275.59,327.53 277.31,330.40 278.30,330.40 C279.29,330.40 281.01,323.70 282.00,323.70 C282.99,323.70 284.70,323.80 285.70,324.20 C286.70,324.60 288.50,326.11 289.50,326.70 C290.50,327.29 292.21,328.60 293.20,328.60 C294.19,328.60 296.01,325.15 296.90,324.20 C297.79,323.25 299.11,321.50 299.90,321.50 C300.69,321.50 302.03,324.17 302.80,324.80 C303.57,325.43 304.94,325.91 305.70,326.20 C306.46,326.49 307.74,326.75 308.50,327.00 C309.26,327.25 310.63,328.10 311.40,328.10 C312.17,328.10 313.53,326.24 314.30,325.80 C315.07,325.36 316.43,324.80 317.20,324.80 C317.97,324.80 319.33,326.31 320.10,326.70 C320.87,327.09 322.24,327.70 323.00,327.70 C323.76,327.70 325.04,327.22 325.80,326.70 C326.56,326.18 327.93,323.80 328.70,323.80 C329.47,323.80 330.83,323.80 331.60,323.80 C332.37,323.80 333.73,325.79 334.50,326.70 C335.27,327.61 336.63,329.96 337.40,330.60 C338.17,331.24 339.53,331.50 340.30,331.50 C341.07,331.50 342.44,328.73 343.20,327.70 C343.96,326.67 345.24,323.80 346.00,323.80 C346.76,323.80 348.13,324.03 348.90,324.80 C349.67,325.57 351.03,328.57 351.80,329.60 C352.57,330.63 353.89,332.50 354.70,332.50 C355.51,332.50 357.09,331.59 357.90,331.20 C358.71,330.81 360.03,330.20 360.80,329.60 C361.57,329.00 362.94,326.70 363.70,326.70 C364.46,326.70 365.74,327.43 366.50,327.70 C367.26,327.97 368.63,328.45 369.40,328.70 C370.17,328.95 371.53,329.27 372.30,329.60 C373.07,329.93 374.43,331.20 375.20,331.20 C375.97,331.20 377.33,330.01 378.10,329.60 C378.87,329.19 380.24,328.10 381.00,328.10 C381.76,328.10 383.04,328.55 383.80,328.70 C384.56,328.85 385.93,329.20 386.70,329.20 C387.47,329.20 388.83,327.70 389.60,327.70 C390.37,327.70 391.73,328.39 392.50,328.70 C393.27,329.01 394.63,329.67 395.40,330.00 C396.17,330.33 397.53,330.87 398.30,331.20 C399.07,331.53 400.44,332.50 401.20,332.50 C401.96,332.50 403.24,331.89 404.00,331.50 C404.76,331.11 406.13,329.97 406.90,329.60 C407.67,329.23 409.00,328.70 409.80,328.70 C410.60,328.70 412.10,330.99 412.90,331.50 C413.70,332.01 415.03,332.50 415.80,332.50 C416.57,332.50 417.94,331.75 418.70,331.50 C419.46,331.25 420.74,330.97 421.50,330.60 C422.26,330.23 423.63,329.09 424.40,328.70 C425.17,328.31 426.53,327.70 427.30,327.70 C428.07,327.70 429.43,328.70 430.20,328.70 C430.97,328.70 432.33,327.63 433.10,327.30 C433.87,326.97 435.24,326.20 436.00,326.20 C436.76,326.20 438.04,326.85 438.80,327.30 C439.56,327.75 440.93,329.04 441.70,329.60 C442.47,330.16 443.83,331.50 444.60,331.50 C445.37,331.50 446.73,329.51 447.50,328.70 C448.27,327.89 449.63,325.40 450.40,325.40 C451.17,325.40 452.53,325.76 453.30,326.20 C454.07,326.64 455.44,328.03 456.20,328.70 C456.96,329.37 458.24,330.69 459.00,331.20 C459.76,331.71 461.13,332.50 461.90,332.50 C462.67,332.50 464.03,331.24 464.80,330.60 C465.57,329.96 466.85,328.34 467.70,327.70 C468.55,327.06 471.20,325.80 471.20,325.80" stroke="#2ca02c"/>
<path d="M41.60,335.30 C41.60,335.30 44.30,333.80 45.10,333.80 C45.90,333.80 46.84,334.60 47.60,334.60 C48.36,334.60 49.95,333.80 50.80,333.80 C51.65,333.80 53.07,334.60 54.00,334.60 C54.93,334.60 56.88,334.20 57.80,334.20 C58.72,334.20 60.14,334.60 60.90,334.60 C61.66,334.60 62.82,333.29 63.50,332.90 C64.18,332.51 65.41,331.70 66.00,331.70 C66.59,331.70 67.30,332.60 67.90,332.60 C68.50,332.60 69.82,331.70 70.50,331.70 C71.18,331.70 72.33,333.02 73.00,333.30 C73.67,333.58 74.82,333.80 75.50,333.80 C76.18,333.80 77.42,332.90 78.10,332.90 C78.78,332.90 79.93,333.80 80.60,333.80 C81.27,333.80 82.42,332.90 83.10,332.90 C83.78,332.90 85.02,334.20 85.70,334.20 C86.38,334.20 87.52,331.76 88.20,331.00 C88.88,330.24 90.20,328.50 90.80,328.50 C91.40,328.50 92.19,330.29 92.70,331.00 C93.21,331.71 94.01,333.80 94.60,333.80 C95.19,333.80 96.54,331.00 97.10,331.00 C97.66,331.00 98.15,330.63 98.80,331.10 C99.45,331.57 101.15,334.50 102.00,334.50 C102.85,334.50 104.36,330.71 105.20,329.80 C106.04,328.89 107.46,327.70 108.30,327.70 C109.14,327.70 110.57,329.66 111.50,330.50 C112.43,331.34 114.11,334.00 115.30,334.00 C116.49,334.00 119.04,333.97 120.40,333.80 C121.76,333.63 124.15,333.14 125.50,332.70 C126.85,332.26 129.30,330.50 130.50,330.50 C131.70,330.50 133.39,330.57 134.50,331.10 C135.61,331.63 137.64,334.50 138.80,334.50 C139.96,334.50 142.11,334.11 143.20,333.60 C144.29,333.09 146.07,331.33 147.00,330.70 C147.93,330.07 149.44,328.90 150.20,328.90 C150.96,328.90 151.81,331.84 152.70,332.60 C153.59,333.36 155.79,334.60 156.90,334.60 C158.01,334.60 159.91,332.24 161.00,331.20 C162.09,330.16 164.18,326.80 165.10,326.80 C166.02,326.80 167.17,327.21 167.90,327.80 C168.63,328.39 169.87,330.37 170.60,331.20 C171.33,332.03 172.63,334.00 173.40,334.00 C174.17,334.00 175.59,333.70 176.40,333.70 C177.21,333.70 178.62,334.60 179.50,334.60 C180.38,334.60 182.08,334.15 183.00,333.70 C183.92,333.25 185.59,331.72 186.40,331.20 C187.21,330.68 188.37,329.80 189.10,329.80 C189.83,329.80 191.25,331.93 191.90,332.60 C192.55,333.27 193.36,334.80 194.00,334.80 C194.64,334.80 196.13,331.07 196.70,329.80 C197.27,328.53 197.65,325.30 198.30,325.30 C198.95,325.30 200.72,328.63 201.60,329.40 C202.48,330.17 204.02,331.10 204.90,331.10 C205.78,331.10 207.43,328.11 208.20,327.00 C208.97,325.89 210.06,322.80 210.70,322.80 C211.34,322.80 212.35,322.77 213.00,323.00 C213.65,323.23 214.93,324.29 215.60,324.50 C216.27,324.71 217.39,324.45 218.00,324.60 C218.61,324.75 219.63,325.60 220.20,325.60 C220.77,325.60 221.74,321.85 222.30,319.80 C222.86,317.75 223.85,312.76 224.40,310.20 C224.95,307.64 225.85,302.80 226.40,300.60 C226.95,298.40 227.95,295.53 228.50,293.70 C229.05,291.87 229.95,288.73 230.50,286.90 C231.05,285.07 232.03,282.56 232.60,280.00 C233.17,277.44 234.11,270.86 234.80,267.70 C235.49,264.54 237.19,258.07 237.80,256.30 C238.41,254.53 239.40,254.40 239.40,254.40 C239.40,254.40 240.81,255.73 241.50,257.50 C242.19,259.27 243.77,265.14 244.60,267.70 C245.43,270.26 246.99,274.79 247.70,276.70 C248.41,278.61 249.21,280.69 249.90,282.00 C250.59,283.31 252.19,286.50 252.90,286.50 C253.61,286.50 254.29,286.00 255.20,285.80 C256.11,285.60 258.39,285.00 259.70,285.00 C261.01,285.00 263.93,285.25 265.00,285.80 C266.07,286.35 266.91,289.10 267.70,289.10 C268.49,289.10 269.98,286.66 270.90,285.90 C271.82,285.14 273.77,283.40 274.60,283.40 C275.43,283.40 276.43,285.62 277.10,287.10 C277.77,288.58 278.77,292.69 279.60,294.50 C280.43,296.31 282.31,299.65 283.30,300.70 C284.29,301.75 286.01,302.40 287.00,302.40 C287.99,302.40 289.87,298.20 290.70,298.20 C291.53,298.20 292.55,302.75 293.20,304.40 C293.85,306.05 294.95,309.61 295.60,310.60 C296.25,311.59 297.41,311.80 298.10,311.80 C298.79,311.80 299.92,309.33 300.80,308.50 C301.68,307.67 303.79,305.60 304.70,305.60 C305.61,305.60 306.83,305.99 307.60,306.50 C308.37,307.01 309.74,308.93 310.50,309.40 C311.26,309.87 312.54,309.81 313.30,310.00 C314.06,310.19 315.43,310.80 316.20,310.80 C316.97,310.80 318.33,309.07 319.10,308.50 C319.87,307.93 321.23,306.89 322.00,306.50 C322.77,306.11 324.26,305.85 324.90,305.60 C325.54,305.35 326.16,304.60 326.80,304.60 C327.44,304.60 328.93,306.73 329.70,307.50 C330.47,308.27 331.83,309.37 332.60,310.40 C333.37,311.43 334.81,314.17 335.50,315.20 C336.19,316.23 337.16,318.10 337.80,318.10 C338.44,318.10 339.58,314.07 340.30,313.30 C341.02,312.53 342.44,312.69 343.20,312.30 C343.96,311.91 345.24,310.79 346.00,310.40 C346.76,310.01 348.13,309.40 348.90,309.40 C349.67,309.40 350.99,312.53 351.80,313.30 C352.61,314.07 354.19,315.20 355.00,315.20 C355.81,315.20 357.13,312.19 357.90,311.30 C358.67,310.41 360.03,309.14 360.80,308.50 C361.57,307.86 362.94,306.50 363.70,306.50 C364.46,306.50 365.74,306.86 366.50,307.50 C367.26,308.14 368.68,310.53 369.40,311.30 C370.12,312.07 371.26,313.30 371.90,313.30 C372.54,313.30 373.51,310.92 374.20,310.40 C374.89,309.88 376.33,309.40 377.10,309.40 C377.87,309.40 379.23,309.40 380.00,309.40 C380.77,309.40 382.13,309.40 382.90,309.40 C383.67,309.40 385.03,309.81 385.80,310.00 C386.57,310.19 387.94,310.80 388.70,310.80 C389.46,310.80 390.74,310.40 391.50,310.40 C392.26,310.40 393.63,310.99 394.40,311.30 C395.17,311.61 396.53,312.31 397.30,312.70 C398.07,313.09 399.43,314.20 400.20,314.20 C400.97,314.20 402.33,313.46 403.10,312.70 C403.87,311.94 405.24,309.45 406.00,308.50 C406.76,307.55 408.04,306.12 408.80,305.60 C409.56,305.08 411.15,304.60 411.70,304.60 C412.25,304.60 412.35,304.60 412.90,304.60 C413.45,304.60 415.03,307.47 415.80,308.50 C416.57,309.53 417.94,311.66 418.70,312.30 C419.46,312.94 420.74,313.30 421.50,313.30 C422.26,313.30 423.63,311.17 424.40,310.40 C425.17,309.63 426.53,308.14 427.30,307.50 C428.07,306.86 429.43,305.99 430.20,305.60 C430.97,305.21 432.33,304.60 433.10,304.60 C433.87,304.60 435.24,307.86 436.00,308.50 C436.76,309.14 438.04,309.03 438.80,309.40 C439.56,309.77 440.93,311.30 441.70,311.30 C442.47,311.30 443.83,310.04 444.60,309.40 C445.37,308.76 446.73,307.01 447.50,306.50 C448.27,305.99 449.63,305.60 450.40,305.60 C451.17,305.60 452.53,307.11 453.30,307.50 C454.07,307.89 455.44,308.25 456.20,308.50 C456.96,308.75 458.24,309.40 459.00,309.40 C459.76,309.40 461.13,309.01 461.90,308.50 C462.67,307.99 464.03,306.37 464.80,305.60 C465.57,304.83 466.85,303.22 467.70,302.70 C468.55,302.18 471.20,301.70 471.20,301.70" stroke="#d62728"/>
</g>
<rect x="41.6" y="4.0" width="429.8" height="153.5" fill="none" stroke="#636363" stroke-width="1.2"/>
<rect x="41.6" y="182.5" width="429.8" height="153.3" fill="none" stroke="#636363" stroke-width="1.2"/>
<line x1="41.60" y1="157.5" x2="41.60" y2="154.9" stroke="#555" stroke-width="0.9"/>
<line x1="70.03" y1="157.5" x2="70.03" y2="155.9" stroke="#555" stroke-width="0.9"/>
<line x1="98.47" y1="157.5" x2="98.47" y2="154.9" stroke="#555" stroke-width="0.9"/>
<line x1="126.91" y1="157.5" x2="126.91" y2="155.9" stroke="#555" stroke-width="0.9"/>
<line x1="155.34" y1="157.5" x2="155.34" y2="154.9" stroke="#555" stroke-width="0.9"/>
<line x1="183.77" y1="157.5" x2="183.77" y2="155.9" stroke="#555" stroke-width="0.9"/>
<line x1="212.21" y1="157.5" x2="212.21" y2="154.9" stroke="#555" stroke-width="0.9"/>
<line x1="240.64" y1="157.5" x2="240.64" y2="155.9" stroke="#555" stroke-width="0.9"/>
<line x1="269.08" y1="157.5" x2="269.08" y2="154.9" stroke="#555" stroke-width="0.9"/>
<line x1="297.51" y1="157.5" x2="297.51" y2="155.9" stroke="#555" stroke-width="0.9"/>
<line x1="325.95" y1="157.5" x2="325.95" y2="154.9" stroke="#555" stroke-width="0.9"/>
<line x1="354.38" y1="157.5" x2="354.38" y2="155.9" stroke="#555" stroke-width="0.9"/>
<line x1="382.82" y1="157.5" x2="382.82" y2="154.9" stroke="#555" stroke-width="0.9"/>
<line x1="411.25" y1="157.5" x2="411.25" y2="155.9" stroke="#555" stroke-width="0.9"/>
<line x1="439.69" y1="157.5" x2="439.69" y2="154.9" stroke="#555" stroke-width="0.9"/>
<line x1="468.12" y1="157.5" x2="468.12" y2="155.9" stroke="#555" stroke-width="0.9"/>
<line x1="41.60" y1="335.8" x2="41.60" y2="333.2" stroke="#555" stroke-width="0.9"/>
<line x1="70.03" y1="335.8" x2="70.03" y2="334.2" stroke="#555" stroke-width="0.9"/>
<line x1="98.47" y1="335.8" x2="98.47" y2="333.2" stroke="#555" stroke-width="0.9"/>
<line x1="126.91" y1="335.8" x2="126.91" y2="334.2" stroke="#555" stroke-width="0.9"/>
<line x1="155.34" y1="335.8" x2="155.34" y2="333.2" stroke="#555" stroke-width="0.9"/>
<line x1="183.77" y1="335.8" x2="183.77" y2="334.2" stroke="#555" stroke-width="0.9"/>
<line x1="212.21" y1="335.8" x2="212.21" y2="333.2" stroke="#555" stroke-width="0.9"/>
<line x1="240.64" y1="335.8" x2="240.64" y2="334.2" stroke="#555" stroke-width="0.9"/>
<line x1="269.08" y1="335.8" x2="269.08" y2="333.2" stroke="#555" stroke-width="0.9"/>
<line x1="297.51" y1="335.8" x2="297.51" y2="334.2" stroke="#555" stroke-width="0.9"/>
<line x1="325.95" y1="335.8" x2="325.95" y2="333.2" stroke="#555" stroke-width="0.9"/>
<line x1="354.38" y1="335.8" x2="354.38" y2="334.2" stroke="#555" stroke-width="0.9"/>
<line x1="382.82" y1="335.8" x2="382.82" y2="333.2" stroke="#555" stroke-width="0.9"/>
<line x1="411.25" y1="335.8" x2="411.25" y2="334.2" stroke="#555" stroke-width="0.9"/>
<line x1="439.69" y1="335.8" x2="439.69" y2="333.2" stroke="#555" stroke-width="0.9"/>
<line x1="468.12" y1="335.8" x2="468.12" y2="334.2" stroke="#555" stroke-width="0.9"/>
<line x1="41.6" y1="156.60" x2="44.2" y2="156.60" stroke="#555" stroke-width="0.9"/>
<line x1="41.6" y1="131.22" x2="43.2" y2="131.22" stroke="#555" stroke-width="0.9"/>
<line x1="41.6" y1="105.85" x2="44.2" y2="105.85" stroke="#555" stroke-width="0.9"/>
<line x1="41.6" y1="80.47" x2="43.2" y2="80.47" stroke="#555" stroke-width="0.9"/>
<line x1="41.6" y1="55.10" x2="44.2" y2="55.10" stroke="#555" stroke-width="0.9"/>
<line x1="41.6" y1="29.72" x2="43.2" y2="29.72" stroke="#555" stroke-width="0.9"/>
<line x1="41.6" y1="4.35" x2="44.2" y2="4.35" stroke="#555" stroke-width="0.9"/>
<line x1="41.6" y1="335.30" x2="44.2" y2="335.30" stroke="#555" stroke-width="0.9"/>
<line x1="41.6" y1="318.80" x2="43.2" y2="318.80" stroke="#555" stroke-width="0.9"/>
<line x1="41.6" y1="302.30" x2="44.2" y2="302.30" stroke="#555" stroke-width="0.9"/>
<line x1="41.6" y1="285.80" x2="43.2" y2="285.80" stroke="#555" stroke-width="0.9"/>
<line x1="41.6" y1="269.30" x2="44.2" y2="269.30" stroke="#555" stroke-width="0.9"/>
<line x1="41.6" y1="252.80" x2="43.2" y2="252.80" stroke="#555" stroke-width="0.9"/>
<line x1="41.6" y1="236.30" x2="44.2" y2="236.30" stroke="#555" stroke-width="0.9"/>
<line x1="41.6" y1="219.80" x2="43.2" y2="219.80" stroke="#555" stroke-width="0.9"/>
<line x1="41.6" y1="203.30" x2="44.2" y2="203.30" stroke="#555" stroke-width="0.9"/>
<line x1="41.6" y1="186.80" x2="43.2" y2="186.80" stroke="#555" stroke-width="0.9"/>
<g fill="#111" font-size="11">
<text x="15.5" y="160.30" textLength="23.2" lengthAdjust="spacingAndGlyphs">0.00</text>
<text x="15.5" y="109.55" textLength="23.2" lengthAdjust="spacingAndGlyphs">0.10</text>
<text x="15.5" y="58.80" textLength="23.2" lengthAdjust="spacingAndGlyphs">0.20</text>
<text x="15.5" y="8.05" textLength="23.2" lengthAdjust="spacingAndGlyphs">0.30</text>
<text x="15.5" y="339.00" textLength="23.2" lengthAdjust="spacingAndGlyphs">0.00</text>
<text x="15.5" y="306.00" textLength="23.2" lengthAdjust="spacingAndGlyphs">0.02</text>
<text x="15.5" y="273.00" textLength="23.2" lengthAdjust="spacingAndGlyphs">0.04</text>
<text x="15.5" y="240.00" textLength="23.2" lengthAdjust="spacingAndGlyphs">0.06</text>
<text x="15.5" y="207.00" textLength="23.2" lengthAdjust="spacingAndGlyphs">0.08</text>
<text x="38.40" y="168.6" textLength="6.4" lengthAdjust="spacingAndGlyphs">0</text>
<text x="38.40" y="346.8" textLength="6.4" lengthAdjust="spacingAndGlyphs">0</text>
<text x="95.27" y="168.6" textLength="6.4" lengthAdjust="spacingAndGlyphs">1</text>
<text x="95.27" y="346.8" textLength="6.4" lengthAdjust="spacingAndGlyphs">1</text>
<text x="152.14" y="168.6" textLength="6.4" lengthAdjust="spacingAndGlyphs">2</text>
<text x="152.14" y="346.8" textLength="6.4" lengthAdjust="spacingAndGlyphs">2</text>
<text x="209.01" y="168.6" textLength="6.4" lengthAdjust="spacingAndGlyphs">3</text>
<text x="209.01" y="346.8" textLength="6.4" lengthAdjust="spacingAndGlyphs">3</text>
<text x="265.88" y="168.6" textLength="6.4" lengthAdjust="spacingAndGlyphs">4</text>
<text x="265.88" y="346.8" textLength="6.4" lengthAdjust="spacingAndGlyphs">4</text>
<text x="322.75" y="168.6" textLength="6.4" lengthAdjust="spacingAndGlyphs">5</text>
<text x="322.75" y="346.8" textLength="6.4" lengthAdjust="spacingAndGlyphs">5</text>
<text x="379.62" y="168.6" textLength="6.4" lengthAdjust="spacingAndGlyphs">6</text>
<text x="379.62" y="346.8" textLength="6.4" lengthAdjust="spacingAndGlyphs">6</text>
<text x="436.49" y="168.6" textLength="6.4" lengthAdjust="spacingAndGlyphs">7</text>
<text x="436.49" y="346.8" textLength="6.4" lengthAdjust="spacingAndGlyphs">7</text>
</g>
<text x="201.9" y="360.6" font-size="10.6" textLength="109.2" lengthAdjust="spacingAndGlyphs" fill="#111">Evolution Time [Gyr]</text>
<text transform="translate(9.0,95.0) rotate(-90)" font-size="10.4" font-style="italic" fill="#111">A</text>
<text transform="translate(9.9,86.9) rotate(-90)" font-size="7.4" font-style="italic" fill="#111">m</text>
<text transform="translate(9.9,78.4) rotate(-90)" font-size="7.4" fill="#111">=</text>
<text transform="translate(9.6,71.6) rotate(-90)" font-size="7.4" fill="#111">2</text>
<text transform="translate(8.7,288.0) rotate(-90)" font-size="10.4" font-style="italic" fill="#111">A</text>
<text transform="translate(10.2,279.9) rotate(-90)" font-size="7.4" font-style="italic" textLength="17.0" lengthAdjust="spacingAndGlyphs" fill="#111">buck</text>
<text transform="translate(8.6,258.5) rotate(-90)" font-size="10.4" textLength="25.6" lengthAdjust="spacingAndGlyphs" fill="#111">[kpc]</text>
<rect x="353.3" y="188.6" width="113.2" height="39.6" rx="1.8" ry="1.8" fill="#fff" fill-opacity="0.8" stroke="#dcdcdc" stroke-width="1"/>
<g stroke-width="1.5">
<line x1="357.5" y1="199.1" x2="380" y2="199.1" stroke="#1f77b4"/>
<line x1="357.5" y1="215.5" x2="380" y2="215.5" stroke="#ff7f0e"/>
<line x1="419.4" y1="199.5" x2="441.5" y2="199.5" stroke="#2ca02c"/>
<line x1="419.4" y1="218" x2="441.5" y2="218" stroke="#d62728"/>
</g>
<g fill="#111" font-size="11.6" font-style="italic">
<text x="387.3" y="204.2">C</text>
<text x="387.3" y="220.1">C&#8242;</text>
<text x="449.4" y="203.8">C</text><text x="457.0" y="204.8" font-size="8.5">i</text>
<text x="449.4" y="221.8">C</text><text x="457.0" y="223.4" font-size="8.5">ii</text>
</g>
<g fill="none" stroke="#111" stroke-width="0.9">
<path d="M451.2,192.7 C453.2,191.3 455.4,193.3 457.8,191.7"/>
<path d="M451.2,211.8 C453.2,210.4 455.4,212.4 457.8,210.8"/>
</g>
</svg></body></html>
